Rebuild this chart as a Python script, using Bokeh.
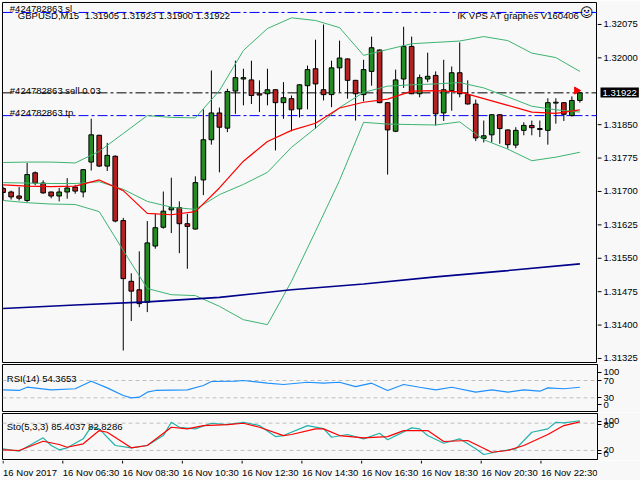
import math
from bokeh.plotting import figure
from bokeh.layouts import column, row
from bokeh.models import Range1d, FixedTicker, Span, ColumnDataSource
from bokeh.core.properties import value
from bokeh.embed import file_html
from bokeh.resources import INLINE

# ---------------- data ----------------
symbol = "GBPUSD,M15"
header_ohlc = "1.31905 1.31923 1.31900 1.31922"
order_id = "#424782863"
brand = "IK VPS AT graphes V160406"

bar_index = list(range(73))
opens = [1.31708, 1.31700, 1.31691, 1.31681, 1.31743, 1.31720, 1.31700, 1.31691, 1.31700, 1.31711,
         1.31700, 1.31767, 1.31827, 1.31758, 1.31780, 1.31636, 1.31500, 1.31481, 1.31453, 1.31579,
         1.31621, 1.31660, 1.31665, 1.31629, 1.31617, 1.31727, 1.31817, 1.31877, 1.31843, 1.31926,
         1.31953, 1.31951, 1.31920, 1.31920, 1.31929, 1.31900, 1.31909, 1.31886, 1.31938, 1.31976,
         1.31929, 1.31918, 1.31978, 1.31998, 1.31950, 1.31918, 1.31970, 1.32018, 1.31900, 1.31836,
         1.31953, 1.32026, 1.31920, 1.31953, 1.31961, 1.31877, 1.31927, 1.31967, 1.31918, 1.31897,
         1.31820, 1.31828, 1.31873, 1.31839, 1.31805, 1.31838, 1.31849, 1.31842, 1.31838, 1.31899,
         1.31900, 1.31871, 1.31905]
highs = [1.31712, 1.31703, 1.31711, 1.31765, 1.31746, 1.31726, 1.31701, 1.31709, 1.31731, 1.31716,
         1.31751, 1.31864, 1.31828, 1.31810, 1.31782, 1.31642, 1.31518, 1.31567, 1.31635, 1.31651,
         1.31701, 1.31732, 1.31679, 1.31651, 1.31735, 1.31885, 1.31972, 1.31889, 1.31931, 1.31994,
         1.31976, 1.31994, 1.31950, 1.31976, 1.31930, 1.31946, 1.31916, 1.31941, 1.31983, 1.32041,
         1.32075, 1.31994, 1.32039, 1.31999, 1.31951, 1.31996, 1.32048, 1.32019, 1.31901, 1.31974,
         1.32070, 1.32048, 1.31963, 1.32012, 1.31970, 1.31996, 1.31981, 1.32035, 1.31950, 1.31907,
         1.31860, 1.31874, 1.31874, 1.31840, 1.31845, 1.31856, 1.31860, 1.31860, 1.31910, 1.31910,
         1.31901, 1.31914, 1.31923]
lows = [1.31681, 1.31683, 1.31681, 1.31677, 1.31715, 1.31696, 1.31686, 1.31679, 1.31685, 1.31696,
        1.31688, 1.31748, 1.31756, 1.31747, 1.31632, 1.31345, 1.31411, 1.31442, 1.31431, 1.31573,
        1.31618, 1.31608, 1.31563, 1.31528, 1.31616, 1.31693, 1.31806, 1.31744, 1.31834, 1.31875,
        1.31894, 1.31897, 1.31879, 1.31894, 1.31793, 1.31864, 1.31836, 1.31867, 1.31885, 1.31842,
        1.31905, 1.31890, 1.31923, 1.31909, 1.31860, 1.31903, 1.31938, 1.31899, 1.31739, 1.31834,
        1.31933, 1.31919, 1.31912, 1.31946, 1.31849, 1.31859, 1.31882, 1.31912, 1.31896, 1.31814,
        1.31811, 1.31811, 1.31808, 1.31797, 1.31798, 1.31827, 1.31827, 1.31823, 1.31806, 1.31853,
        1.31859, 1.31869, 1.31900]
closes = [1.31699, 1.31689, 1.31686, 1.31739, 1.31720, 1.31698, 1.31691, 1.31700, 1.31709, 1.31702,
          1.31750, 1.31828, 1.31758, 1.31782, 1.31635, 1.31506, 1.31478, 1.31450, 1.31586, 1.31620,
          1.31657, 1.31665, 1.31629, 1.31623, 1.31721, 1.31817, 1.31877, 1.31845, 1.31925, 1.31956,
          1.31956, 1.31916, 1.31917, 1.31929, 1.31900, 1.31911, 1.31884, 1.31940, 1.31974, 1.31942,
          1.31918, 1.31978, 1.32000, 1.31950, 1.31920, 1.31974, 1.32023, 1.31900, 1.31839, 1.31951,
          1.32026, 1.31920, 1.31956, 1.31959, 1.31875, 1.31929, 1.31967, 1.31920, 1.31897, 1.31821,
          1.31826, 1.31873, 1.31842, 1.31806, 1.31838, 1.31849, 1.31844, 1.31840, 1.31900, 1.31901,
          1.31874, 1.31905, 1.31922]

# Bollinger bands and fast MA, read every 3 bars
bb_index = [0, 3, 6, 9, 12, 15, 18, 21, 24, 27, 30, 33, 36, 39, 42, 45, 48, 51, 54, 57, 60, 63, 66, 69, 72]
bb_upper = [1.31766, 1.31767, 1.31767, 1.31765, 1.31791, 1.31831, 1.31871, 1.31867, 1.31866, 1.31927,
            1.32017, 1.32066, 1.32090, 1.32084, 1.32068, 1.32006, 1.32019, 1.32032, 1.32035, 1.32038,
            1.32048, 1.32039, 1.32011, 1.32001, 1.31970]
bb_middle = [1.31721, 1.31720, 1.31719, 1.31719, 1.31723, 1.31706, 1.31679, 1.31666, 1.31661, 1.31694,
             1.31717, 1.31744, 1.31800, 1.31843, 1.31889, 1.31923, 1.31937, 1.31940, 1.31942, 1.31945,
             1.31933, 1.31913, 1.31892, 1.31884, 1.31879]
bb_lower = [1.31681, 1.31676, 1.31673, 1.31672, 1.31656, 1.31569, 1.31484, 1.31470, 1.31468, 1.31444,
            1.31414, 1.31403, 1.31500, 1.31612, 1.31726, 1.31856, 1.31852, 1.31851, 1.31850, 1.31857,
            1.31817, 1.31796, 1.31770, 1.31778, 1.31789]
ma_fast = [1.31716, 1.31713, 1.31712, 1.31713, 1.31727, 1.31703, 1.31652, 1.31649, 1.31656, 1.31709,
           1.31769, 1.31813, 1.31838, 1.31854, 1.31888, 1.31901, 1.31908, 1.31926, 1.31927, 1.31924,
           1.31909, 1.31894, 1.31879, 1.31876, 1.31884]
ma_slow_index = [0, 9, 18, 27, 36, 45, 54, 63, 72]
ma_slow = [1.31439, 1.31447, 1.31454, 1.31464, 1.31481, 1.31494, 1.31510, 1.31524, 1.31539]

sl_price = 1.32102
sell_price = 1.31922
tp_price = 1.31871
last_price = 1.31922

rsi_index = [0, 2, 3, 6, 9, 11, 13, 15, 16, 17, 18, 19, 23, 25, 26, 29, 30, 33, 35, 38, 40, 42, 44,
             46, 48, 50, 52, 54, 56, 59, 61, 63, 65, 67, 68, 70, 72]
rsi_values = [48.5, 47, 54.5, 48.5, 51, 68.4, 53, 35.4, 30, 31.4, 43, 47, 48.5, 58.5, 67.7, 68.4, 70,
              63.8, 60.8, 66, 63.8, 66, 56, 63.8, 47, 60.8, 54.5, 48.5, 54.5, 43, 48.5, 43, 48.5,
              45.3, 53, 51, 54.37]

sto_main_index = [0, 2, 4, 5, 6, 7, 8, 10, 11, 12, 14, 16, 18, 20, 21, 22, 24, 26, 28, 30, 32, 34, 35,
                  38, 40, 41, 43, 45, 47, 48, 51, 52, 53, 55, 57, 59, 60, 62, 64, 66, 68, 69, 70, 72]
sto_main = [23.5, 18.2, 38, 47.7, 30.8, 21.3, 25.7, 45.5, 72.5, 67.5, 30.8, 25.7, 30.8, 52.7, 82, 71,
            67.5, 79.8, 77, 82, 74.7, 50.5, 52.7, 74.7, 68, 49, 55, 45.5, 57.8, 43.3, 69.7, 67.5, 52.7,
            35.8, 45.5, 23.5, 11, 18.2, 23.5, 60, 67.5, 82, 80.7, 85.4]
sto_signal_index = [0, 2, 5, 7, 8, 10, 12, 13, 16, 18, 21, 23, 25, 28, 30, 32, 35, 36, 39, 40, 42, 45,
                    48, 50, 53, 55, 58, 61, 63, 65, 68, 70, 72]
sto_signal = [21.3, 19.8, 40.2, 33, 27, 34.5, 63.7, 60, 25.7, 30.8, 71, 67.5, 74.7, 77, 79.8, 71, 52.7,
              55, 67.5, 67.5, 52.7, 47.7, 50.5, 63.7, 63.7, 39.6, 41.8, 16, 19.8, 30.8, 55, 74.7, 82.8]

time_tick_index = [0, 8, 16, 24, 32, 40, 48, 56, 64, 72]
time_labels = ["16 Nov 2017", "16 Nov 06:30", "16 Nov 08:30", "16 Nov 10:30", "16 Nov 12:30",
               "16 Nov 14:30", "16 Nov 16:30", "16 Nov 18:30", "16 Nov 20:30", "16 Nov 22:30"]
price_ticks = [1.31325, 1.31400, 1.31475, 1.31550, 1.31625, 1.31700, 1.31775, 1.31850, 1.32000, 1.32075]

# ---------------- style ----------------
FONT = "Liberation Sans"
FS = "9.5px"
BG = "#F8F8F8"
UP = "#228B22"
DOWN = "#B22222"
X_LEFT = -0.075     # left frame edge in bar units
X_AXIS = 74.2       # right frame edge (price scale) in bar units
X_FULL = 79.57      # right edge of the window in bar units
PRICE_LO, PRICE_HI = 1.313182, 1.321243


def style_axis(ax):
    ax.major_label_text_font = FONT
    ax.major_label_text_font_size = FS
    ax.major_label_text_color = "black"
    ax.major_tick_out = 4
    ax.major_tick_in = 0
    ax.minor_tick_line_color = None
    ax.major_label_standoff = 2
    ax.axis_line_color = "black"


def base_fig(width, height, x_range, y_range, top, bottom, right, outline, y_loc):
    f = figure(width=width, height=height, x_range=x_range, y_range=y_range,
               y_axis_location=y_loc, x_axis_location=None,
               toolbar_location=None, output_backend="svg",
               min_border_left=2 if width > 100 else 0, min_border_right=right,
               min_border_top=top, min_border_bottom=bottom,
               background_fill_color=BG, border_fill_color=BG,
               outline_line_color=outline, outline_line_width=1)
    f.xgrid.visible = False
    f.ygrid.visible = False
    return f


# ---------------- main price panel ----------------
main = base_fig(597, 363, Range1d(X_LEFT, X_AXIS), Range1d(PRICE_LO, PRICE_HI), 2, 1, 0, "black", None)

for price, color in [(sl_price, "#0000FF"), (sell_price, "black"), (tp_price, "#0000FF")]:
    main.add_layout(Span(location=price, dimension="width", line_color=color, line_width=1,
                         line_dash="10 3 3 3", level="underlay"))

src = ColumnDataSource(dict(
    x=bar_index, high=highs, low=lows,
    top=[max(o, c) for o, c in zip(opens, closes)],
    bottom=[min(o, c) for o, c in zip(opens, closes)],
    color=[UP if c >= o else DOWN for o, c in zip(opens, closes)],
))
main.segment(x0="x", y0="high", x1="x", y1="low", source=src, line_color="black", line_width=1)
main.vbar(x="x", width=0.58, top="top", bottom="bottom", source=src,
          fill_color="color", line_color="black", line_width=1)

main.line(bb_index, bb_upper, line_color="#3CB371", line_width=1)
main.line(bb_index, bb_middle, line_color="#3CB371", line_width=1)
main.line(bb_index, bb_lower, line_color="#3CB371", line_width=1)
main.line(bb_index, ma_fast, line_color="#FF0000", line_width=1.2)
main.line(ma_slow_index, ma_slow, line_color="#00008B", line_width=1.6)

# trade arrow
main.scatter([71.6], [1.31927], marker="triangle", size=7, angle=-math.pi / 2,
             fill_color="#FF0000", line_color="#FF0000")

main.text(x=[0.84, 0.84, 0.84], y=[sl_price, sell_price, tp_price],
          text=[f"{order_id} sl", f"{order_id} sell 0.03", f"{order_id} tp"],
          y_offset=[-4, -2, -3.5], text_font=value(FONT), text_font_size=FS,
          text_color="black", text_baseline="alphabetic", text_align="left")
main.text(x=[1.84, 10.2], y=[1.320963, 1.320963], text=[symbol, header_ohlc],
          text_font=value(FONT), text_font_size=FS, text_color="black",
          text_baseline="alphabetic", text_align="left")
main.text(x=[71.96], y=[1.320963], text=[brand], text_font=value(FONT), text_font_size=FS,
          text_color="black", text_baseline="alphabetic", text_align="right")
main.text(x=[72.84], y=[1.32101], text=["\u263a"], text_font=value("DejaVu Sans"),
          text_font_size="13px", text_color="black", text_baseline="middle", text_align="center")

# ---------------- price scale (right of main panel) ----------------
scale = base_fig(43, 363, Range1d(0, 43), Range1d(PRICE_LO - 0.0000224, PRICE_HI), 2, 0, 0, None, None)
n = len(price_ticks)
scale.segment(x0=[0] * n, y0=price_ticks, x1=[4] * n, y1=price_ticks, line_color="black", line_width=1)
scale.text(x=[6] * n, y=price_ticks, text=[f"{t:.5f}" for t in price_ticks],
           text_font=value(FONT), text_font_size=FS, text_color="black",
           text_align="left", text_baseline="middle")
scale.text(x=[3], y=[last_price], text=[f"{last_price:.5f}"], text_color="white",
           text_font=value(FONT), text_font_size=FS, text_align="left", text_baseline="middle",
           background_fill_color="black", padding=2)

# ---------------- RSI panel ----------------
rsi = base_fig(640, 49, Range1d(X_LEFT, X_AXIS), Range1d(-1.6, 107), 1, 1, 43, "black", "right")
style_axis(rsi.yaxis[0])
rsi.yaxis[0].ticker = FixedTicker(ticks=[89.6, 70, 30, 14.5])
rsi.yaxis[0].major_label_overrides = {89.6: "100", 70: "70", 30: "30", 14.5: "0"}
for lvl in (70, 30):
    rsi.add_layout(Span(location=lvl, dimension="width", line_color="#C0C0C0", line_width=1,
                        line_dash="4 3", level="underlay"))
rsi.line(rsi_index, rsi_values, line_color="#1E90FF", line_width=1.2)
rsi.text(x=[0.46], y=[73.5], text=["RSI(14) 54.3653"], text_font=value(FONT),
         text_font_size=FS, text_color="black", text_baseline="alphabetic", text_align="left")

# ---------------- Stochastic panel ----------------
sto = base_fig(640, 48, Range1d(X_LEFT, X_AXIS), Range1d(0, 101.3), 1, 1, 43, "black", "right")
style_axis(sto.yaxis[0])
sto.yaxis[0].ticker = FixedTicker(ticks=[84.2, 76.3, 20, 12.5])
sto.yaxis[0].major_label_overrides = {84.2: "100", 76.3: "80", 20: "20", 12.5: "0"}
for lvl in (80, 20):
    sto.add_layout(Span(location=lvl, dimension="width", line_color="#C0C0C0", line_width=1,
                        line_dash="4 3", level="underlay"))
sto.line(sto_main_index, sto_main, line_color="#20B2AA", line_width=1.2)
sto.line(sto_signal_index, sto_signal, line_color="#FF0000", line_width=1.2)
sto.text(x=[0.46], y=[73.6], text=["Sto(5,3,3) 85.4037 82.8286"], text_font=value(FONT),
         text_font_size=FS, text_color="black", text_baseline="alphabetic", text_align="left")

# ---------------- time scale strip ----------------
strip = base_fig(640, 20, Range1d(X_LEFT, X_FULL), Range1d(0, 20), 0, 0, 0, None, None)
strip.segment(x0=time_tick_index, y0=[20] * len(time_tick_index), x1=time_tick_index,
              y1=[17] * len(time_tick_index), line_color="black", line_width=1)
strip.text(x=time_tick_index, y=[7.7] * len(time_tick_index), text=time_labels,
           text_font=value(FONT), text_font_size=FS, text_color="black",
           text_align="left", text_baseline="alphabetic")

layout = column(row(main, scale, spacing=0), rsi, sto, strip, spacing=0)

open("out.html", "w").write(file_html(layout, INLINE))
